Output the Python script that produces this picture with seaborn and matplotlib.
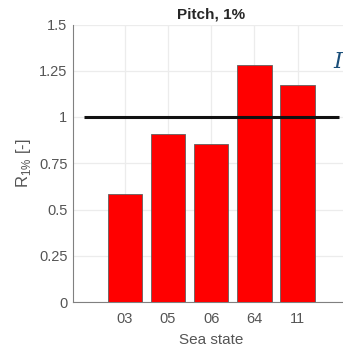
import matplotlib
matplotlib.use("Agg")
import matplotlib.pyplot as plt
import seaborn as sns
import pandas as pd

sea_states = ["03", "05", "06", "64", "11"]
r_values = [0.585, 0.908, 0.854, 1.281, 1.171]
reference_level = 1.0
y_ticks = [0, 0.25, 0.5, 0.75, 1, 1.25, 1.5]
y_tick_labels = ["0", "0.25", "0.5", "0.75", "1", "1.25", "1.5"]

sns.set_style("white")
plt.rcParams["font.family"] = ["Liberation Sans", "DejaVu Sans"]
plt.rcParams["mathtext.fontset"] = "custom"
plt.rcParams["mathtext.rm"] = "Liberation Sans"

df = pd.DataFrame({"Sea state": sea_states, "R": r_values})

W, H = 343, 348
fig = plt.figure(figsize=(W / 100, H / 100), dpi=100)
left, right, top, bottom = 73, 349.4, 24.5, 302
ax = fig.add_axes([left / W, (H - bottom) / H, (right - left) / W, (bottom - top) / H])

sns.barplot(data=df, x="Sea state", y="R", order=sea_states, color="#ff0000",
            saturation=1, width=0.8, edgecolor="#606060", linewidth=0.6, ax=ax, zorder=3)

ax.set_xlim(-1.2, 5.2)
ax.set_ylim(0, 1.5)
ax.set_yticks(y_ticks)
ax.set_yticklabels(y_tick_labels)
ax.grid(True, color="#ececec", linewidth=0.9, zorder=0)
ax.set_axisbelow(True)

ax.hlines(reference_level, -0.95, 4.95, color="#111111", linewidth=2.2, zorder=5)

for s in ["top", "right"]:
    ax.spines[s].set_visible(False)
for s in ["left", "bottom"]:
    ax.spines[s].set_color("#808080")
    ax.spines[s].set_linewidth(0.8)

ax.tick_params(axis="both", direction="in", length=3, width=0.7, color="#808080",
               labelsize=10.5, labelcolor="#555555", pad=4)
ax.tick_params(axis="x", pad=7)
ax.set_xlabel("Sea state", fontsize=11, color="#555555", labelpad=5)
ax.set_ylabel(r"R$_{\mathregular{1\%}}$ [-]", fontsize=12, color="#555555", labelpad=4)
ax.set_title("Pitch, 1%", fontsize=11, fontweight="bold", color="#262626", pad=4)

fig.text(333 / W, (H - 62) / H, "I", fontsize=16, style="italic", family="DejaVu Serif",
         color="#1b4f7a", va="center", ha="left")

fig.savefig("out.png", dpi=100)
